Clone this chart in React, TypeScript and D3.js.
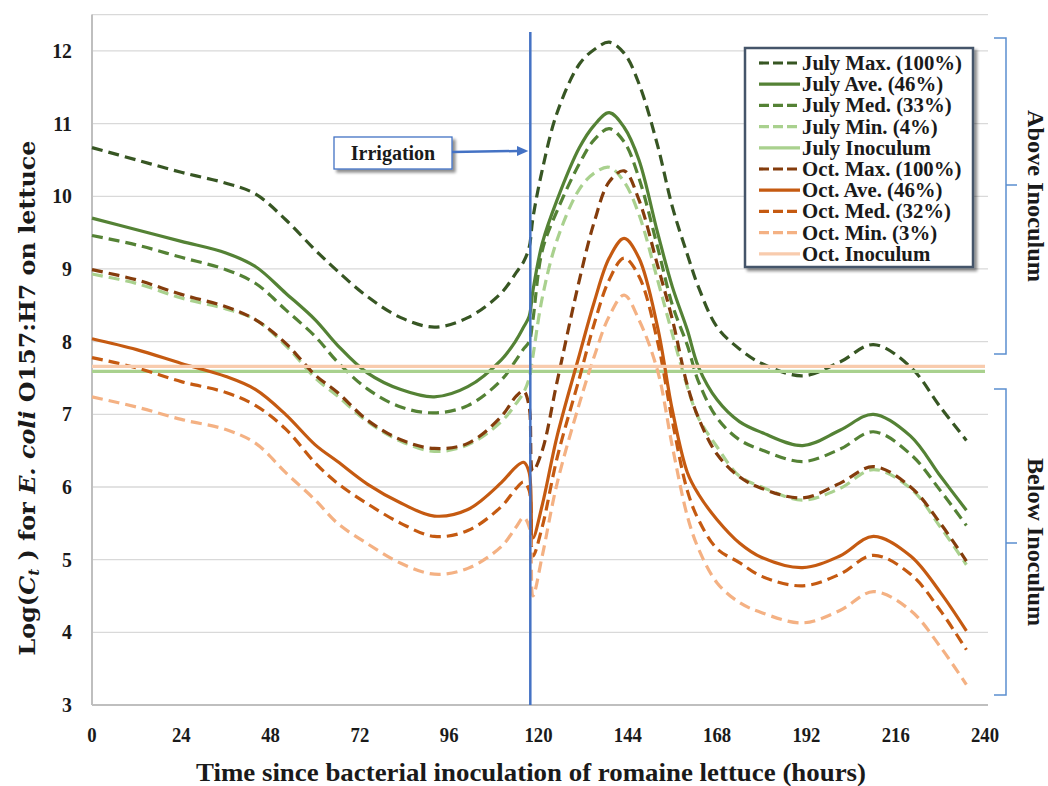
import React from "react";
import * as d3 from "d3";

const hours = [0, 12, 24, 36, 44, 52, 60, 66, 74, 83, 92, 101, 110, 114, 116, 117.5, 118.5, 121, 125, 131, 135, 139, 143, 147, 152, 156, 160, 163, 168, 174, 180, 191, 201, 210, 220, 228, 235];

const julyMax = [10.67, 10.5, 10.33, 10.18, 10.03, 9.68, 9.26, 8.97, 8.62, 8.33, 8.2, 8.33, 8.67, 8.95, 9.1, 9.3, 9.7, 10.36, 11.15, 11.82, 12.02, 12.12, 11.97, 11.55, 10.7, 9.85, 9.2, 8.75, 8.2, 7.9, 7.7, 7.53, 7.72, 7.96, 7.65, 7.1, 6.64];
const julyAve = [9.7, 9.54, 9.38, 9.22, 9.03, 8.67, 8.3, 7.95, 7.57, 7.34, 7.24, 7.38, 7.75, 8.02, 8.2, 8.35, 8.7, 9.35, 9.95, 10.67, 10.98, 11.15, 10.95, 10.5, 9.5, 8.75, 8.16, 7.65, 7.2, 6.9, 6.75, 6.57, 6.78, 7.0, 6.7, 6.15, 5.68];
const julyMed = [9.46, 9.33, 9.16, 8.99, 8.8, 8.44, 8.07, 7.72, 7.35, 7.1, 7.02, 7.12, 7.47, 7.75, 7.9, 8.0, 8.3, 9.25, 9.8, 10.45, 10.78, 10.93, 10.75, 10.25, 9.3, 8.5, 7.95, 7.45, 6.95, 6.65, 6.51, 6.35, 6.52, 6.76, 6.45, 5.95, 5.47];
const julyMin = [8.93, 8.8, 8.6, 8.45, 8.3, 7.95, 7.5, 7.25, 6.9, 6.63, 6.49, 6.58, 6.9, 7.15, 7.3, 7.5, 7.8, 8.6, 9.4, 10.1, 10.32, 10.4, 10.2, 9.75, 8.85, 8.1, 7.38, 6.95, 6.55, 6.15, 6.0, 5.82, 5.98, 6.24, 5.98, 5.45, 4.93];
const octMax = [8.99, 8.85, 8.65, 8.48, 8.3, 7.98, 7.54, 7.3, 6.92, 6.65, 6.53, 6.6, 6.97, 7.25, 7.32, 7.1, 6.22, 6.5, 7.45, 8.85, 9.65, 10.2, 10.35, 9.95, 9.05, 8.3, 7.4, 6.95, 6.45, 6.14, 5.98, 5.85, 6.05, 6.28, 6.0, 5.5, 4.98];
const octAve = [8.04, 7.89, 7.7, 7.52, 7.34, 7.0, 6.58, 6.35, 6.04, 5.78, 5.6, 5.69, 6.06, 6.28, 6.34, 6.2, 5.3, 5.75, 6.7, 7.82, 8.55, 9.15, 9.42, 9.15, 8.2, 7.05, 6.2, 5.9, 5.55, 5.23, 5.03, 4.89, 5.05, 5.32, 5.05, 4.55, 4.02];
const octMed = [7.78, 7.64, 7.45, 7.3, 7.12, 6.8, 6.33, 6.05, 5.77, 5.5, 5.32, 5.4, 5.73, 5.98, 6.07, 5.95, 5.05, 5.45, 6.4, 7.5, 8.25, 8.85, 9.15, 8.9, 8.0, 6.9, 5.95, 5.55, 5.15, 4.96, 4.77, 4.64, 4.8, 5.06, 4.8, 4.3, 3.76];
const octMin = [7.24, 7.1, 6.93, 6.79, 6.6, 6.2, 5.82, 5.5, 5.22, 4.95, 4.8, 4.88, 5.18, 5.45, 5.58, 5.45, 4.5, 5.05, 6.05, 7.15, 7.8, 8.35, 8.64, 8.3, 7.6, 6.55, 5.6, 5.15, 4.68, 4.41, 4.27, 4.13, 4.3, 4.56, 4.3, 3.8, 3.28];

const inoculumHours = [0, 240];
const julyInoculum = [7.59, 7.59];
const octInoculum = [7.66, 7.66];

const irrigationHour = 117.8;

const xTicks = [0, 24, 48, 72, 96, 120, 144, 168, 192, 216, 240];
const yTicks = [3, 4, 5, 6, 7, 8, 9, 10, 11, 12];

const seriesNames = ["July Max. (100%)", "July Ave. (46%)", "July Med. (33%)", "July Min. (4%)", "July Inoculum", "Oct. Max. (100%)", "Oct. Ave. (46%)", "Oct. Med. (32%)", "Oct. Min. (3%)", "Oct. Inoculum"];

const seriesData = [
  { x: hours, y: julyMax },
  { x: hours, y: julyAve },
  { x: hours, y: julyMed },
  { x: hours, y: julyMin },
  { x: inoculumHours, y: julyInoculum },
  { x: hours, y: octMax },
  { x: hours, y: octAve },
  { x: hours, y: octMed },
  { x: hours, y: octMin },
  { x: inoculumHours, y: octInoculum },
];

const seriesStyle = [
  { color: "#375623", dash: "11,6" },
  { color: "#548235", dash: null },
  { color: "#548235", dash: "11,6" },
  { color: "#A9D18E", dash: "11,6" },
  { color: "#A9D18E", dash: null },
  { color: "#843C0C", dash: "11,6" },
  { color: "#C55A11", dash: null },
  { color: "#C55A11", dash: "11,6" },
  { color: "#F4B183", dash: "11,6" },
  { color: "#F8CBAD", dash: null },
];

const W = 1048;
const H = 786;

export default function App() {
  const x = d3.scaleLinear().domain([0, 240]).range([92, 985]);
  const y = d3.scaleLinear().domain([3, 12.5]).range([705, 14.6]);
  const line = d3
    .line<[number, number]>()
    .x((d) => x(d[0]))
    .y((d) => y(d[1]))
    .curve(d3.curveCatmullRom.alpha(0.5));

  const serif = "'Liberation Serif', 'Times New Roman', serif";
  const xl = x(irrigationHour);

  const legendX = 745;
  const legendY = 48;
  const rowH = 21.2;

  return (
    <svg
      width={W}
      height={H}
      style={{ position: "absolute", left: 0, top: 0, background: "#fff" }}
      fontFamily={serif}
    >
      <defs>
        <filter id="shadow" x="-10%" y="-10%" width="130%" height="130%">
          <feGaussianBlur in="SourceAlpha" stdDeviation="1.8" />
          <feOffset dx="3" dy="3" result="ob" />
          <feComponentTransfer>
            <feFuncA type="linear" slope="0.45" />
          </feComponentTransfer>
          <feMerge>
            <feMergeNode />
            <feMergeNode in="SourceGraphic" />
          </feMerge>
        </filter>
      </defs>

      {/* gridlines */}
      {yTicks.slice(1).map((t) => (
        <line key={t} x1={x(0)} x2={988} y1={y(t)} y2={y(t)} stroke="#D9D9D9" strokeWidth={1.3} />
      ))}
      <line x1={x(0)} x2={988} y1={y(12.5)} y2={y(12.5)} stroke="#D9D9D9" strokeWidth={1.3} />

      {/* axes */}
      <line x1={x(0)} x2={x(0)} y1={y(12.5)} y2={y(3)} stroke="#BFBFBF" strokeWidth={2} />
      <line x1={x(0)} x2={988} y1={y(3)} y2={y(3)} stroke="#BFBFBF" strokeWidth={2} />

      {/* y tick labels */}
      {yTicks.map((t) => (
        <text
          key={t}
          transform={`translate(72,${y(t) + 7}) scale(0.9,1)`}
          textAnchor="end"
          fontWeight="bold"
          fontSize={22}
          fill="#1a1a1a"
        >
          {t}
        </text>
      ))}

      {/* x tick labels */}
      {xTicks.map((t) => (
        <text
          key={t}
          transform={`translate(${x(t)},${742}) scale(0.85,1)`}
          textAnchor="middle"
          fontWeight="bold"
          fontSize={22}
          fill="#1a1a1a"
        >
          {t}
        </text>
      ))}

      {/* series */}
      {seriesData.map((s, i) => {
        const pts = s.x.map((h, j) => [h, s.y[j]] as [number, number]);
        const st = seriesStyle[i];
        return (
          <path
            key={seriesNames[i]}
            d={line(pts) || ""}
            fill="none"
            stroke={st.color}
            strokeWidth={3.2}
            strokeDasharray={st.dash || undefined}
          />
        );
      })}

      {/* irrigation line */}
      <line x1={xl} x2={xl} y1={32} y2={y(3)} stroke="#4472C4" strokeWidth={2.5} />

      {/* irrigation callout */}
      <g filter="url(#shadow)">
        <rect x={334} y={137} width={118} height={32} fill="#fff" stroke="#4472C4" strokeWidth={1.3} />
      </g>
      <text x={393} y={160} textAnchor="middle" fontWeight="bold" fontSize={20} fill="#1a1a1a">
        Irrigation
      </text>
      <line x1={452} x2={518} y1={152} y2={151} stroke="#4472C4" strokeWidth={2.5} />
      <path d={`M ${xl - 2} 151 L 517 146 L 517 156 Z`} fill="#4472C4" />

      {/* legend */}
      <g filter="url(#shadow)">
        <rect x={legendX} y={legendY} width={228} height={219} fill="#fff" stroke="#44546A" strokeWidth={2.5} />
      </g>
      {seriesNames.map((n, i) => {
        const cy = legendY + 15 + i * rowH;
        const st = seriesStyle[i];
        return (
          <g key={n}>
            <line
              x1={759}
              x2={800}
              y1={cy}
              y2={cy}
              stroke={st.color}
              strokeWidth={3.2}
              strokeDasharray={st.dash ? "10,4" : undefined}
            />
            <text x={802} y={cy + 7} fontWeight="bold" fontSize={20.8} fill="#1a1a1a">
              {n}
            </text>
          </g>
        );
      })}

      {/* y-axis title */}
      <text
        transform="translate(35,398) rotate(-90)"
        textAnchor="middle"
        fontFamily="'DejaVu Serif', serif"
        fontWeight="bold"
        fontSize={22}
        fill="#1a1a1a"
        textLength={515}
        lengthAdjust="spacingAndGlyphs"
      >
        <tspan>Log(</tspan>
        <tspan fontStyle="italic">C</tspan>
        <tspan fontStyle="italic" fontSize={14} dy={4}>t</tspan>
        <tspan dy={-4}> ) for </tspan>
        <tspan fontStyle="italic">E. coli</tspan>
        <tspan> O157:H7 on lettuce</tspan>
      </text>

      {/* x-axis title */}
      <text
        x={531}
        y={781}
        textAnchor="middle"
        fontWeight="bold"
        fontSize={26}
        fill="#1a1a1a"
        textLength={670}
        lengthAdjust="spacingAndGlyphs"
      >
        Time since bacterial inoculation of romaine lettuce (hours)
      </text>

      {/* right brackets */}
      <path d="M 994 38 L 1006 38 L 1006 354 L 994 354 M 1006 185 L 1017 185" fill="none" stroke="#5B8FD0" strokeWidth={1.5} />
      <path d="M 994 389 L 1006 389 L 1006 695 L 994 695 M 1006 543 L 1017 543" fill="none" stroke="#5B8FD0" strokeWidth={1.5} />
      <text
        transform="translate(1028,196) rotate(90)"
        textAnchor="middle"
        fontWeight="bold"
        fontSize={23}
        fill="#1a1a1a"
        textLength={172}
        lengthAdjust="spacingAndGlyphs"
      >
        Above Inoculum
      </text>
      <text
        transform="translate(1028,542) rotate(90)"
        textAnchor="middle"
        fontWeight="bold"
        fontSize={23}
        fill="#1a1a1a"
        textLength={168}
        lengthAdjust="spacingAndGlyphs"
      >
        Below Inoculum
      </text>
    </svg>
  );
}
